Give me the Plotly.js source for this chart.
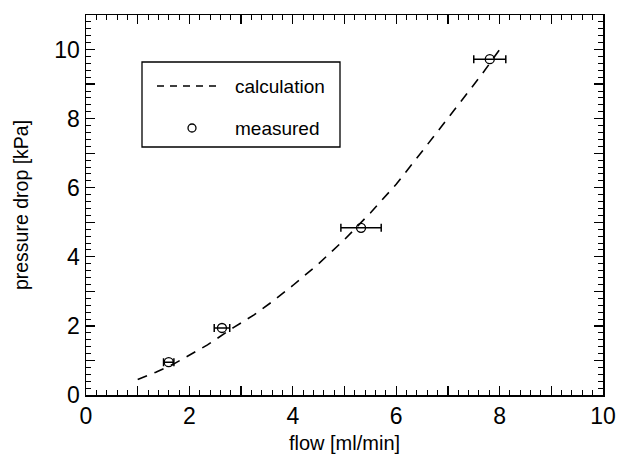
<!DOCTYPE html>
<html>
<head>
<meta charset="utf-8">
<script src="https://cdn.plot.ly/plotly-3.0.1.min.js"></script>
<style>html,body{margin:0;padding:0;background:#fff;}#chart{width:626px;height:456px;}</style>
</head>
<body>
<div id="chart"></div>
<script>
// calculation curve
const calcFlow = [1.0, 1.35, 1.7, 2.0, 2.35, 2.85, 3.25, 3.6, 4.0, 4.5, 5.0, 5.5, 6.0, 6.5, 7.0, 7.45, 7.7, 8.0];
const calcPressure = [0.45, 0.66, 0.9, 1.15, 1.45, 1.95, 2.32, 2.7, 3.17, 3.8, 4.5, 5.27, 6.1, 7.05, 8.0, 8.88, 9.37, 10.0];
// measured points
const measFlow = [1.6, 2.63, 5.32, 7.81];
const measPressure = [0.95, 1.94, 4.84, 9.72];
const measFlowErr = [0.1, 0.15, 0.39, 0.31];
// axis ticks
const xTickVals = [0,1,2,3,4,5,6,7,8,9,10];
const xTickText = ["0","","2","","4","","6","","8","","10"];
const yTickVals = [0,1,2,3,4,5,6,7,8,9,10,11];
const yTickText = ["0","","2","","4","","6","","8","","10",""];
const legendLabels = ["calculation", "measured"];

const font = 'Liberation Sans, Arial, Helvetica, sans-serif';

const traces = [
  {
    x: calcFlow, y: calcPressure, mode: 'lines', type: 'scatter',
    line: {color: '#000', width: 1.6, dash: '10px,8px'},
    name: legendLabels[0], showlegend: false, hoverinfo: 'skip'
  },
  {
    x: measFlow, y: measPressure, mode: 'markers', type: 'scatter',
    marker: {symbol: 'circle-open', size: 9, color: '#000', line: {width: 1.3, color: '#000'}},
    error_x: {type: 'data', array: measFlowErr, visible: true, color: '#000', thickness: 1.5, width: 4},
    name: legendLabels[1], showlegend: false
  }
];

const axisCommon = {
  tickmode: 'array', ticks: 'inside', ticklen: 9, tickwidth: 1.3, tickcolor: '#000',
  showline: true, linecolor: '#000', linewidth: 1.5, mirror: 'ticks',
  showgrid: false, zeroline: false,
  tickfont: {family: font, size: 23, color: '#000'},
  minor: {dtick: 0.2, ticks: 'inside', ticklen: 5, tickwidth: 1, tickcolor: '#000', showgrid: false}
};

const layout = {
  width: 626, height: 456,
  margin: {l: 86, r: 23, t: 15, b: 61},
  paper_bgcolor: '#fff', plot_bgcolor: '#fff',
  showlegend: false,
  xaxis: Object.assign({}, axisCommon, {
    range: [0, 10], tickvals: xTickVals, ticktext: xTickText,
    title: {text: 'flow [ml/min]', font: {family: font, size: 20, color: '#000'}, standoff: 8}
  }),
  yaxis: Object.assign({}, axisCommon, {
    range: [0, 11], tickvals: yTickVals, ticktext: yTickText,
    title: {text: 'pressure drop [kPa]', font: {family: font, size: 19.5, color: '#000'}, standoff: 20}
  }),
  shapes: [
    {type: 'rect', xref: 'paper', yref: 'paper',
     x0: (142-86)/517, x1: (340-86)/517, y0: (395-147)/380, y1: (395-62)/380,
     line: {color: '#000', width: 1.3}, fillcolor: '#fff'},
    {type: 'line', xref: 'paper', yref: 'paper',
     x0: (157-86)/517, x1: (221-86)/517, y0: (395-86)/380, y1: (395-86)/380,
     line: {color: '#000', width: 1.3, dash: '7px,6px'}},
    {type: 'circle', xref: 'paper', yref: 'paper',
     x0: (188-86)/517, x1: (196-86)/517, y0: (395-132)/380, y1: (395-124)/380,
     line: {color: '#000', width: 1.3}}
  ],
  annotations: [
    {xref: 'paper', yref: 'paper', x: (233-86)/517, y: (395-86)/380, xanchor: 'left', yanchor: 'middle',
     text: legendLabels[0], showarrow: false, font: {family: font, size: 19, color: '#000'}},
    {xref: 'paper', yref: 'paper', x: (233-86)/517, y: (395-128)/380, xanchor: 'left', yanchor: 'middle',
     text: legendLabels[1], showarrow: false, font: {family: font, size: 19, color: '#000'}}
  ]
};

Plotly.newPlot('chart', traces, layout, {staticPlot: true, displayModeBar: false});
</script>
</body>
</html>
